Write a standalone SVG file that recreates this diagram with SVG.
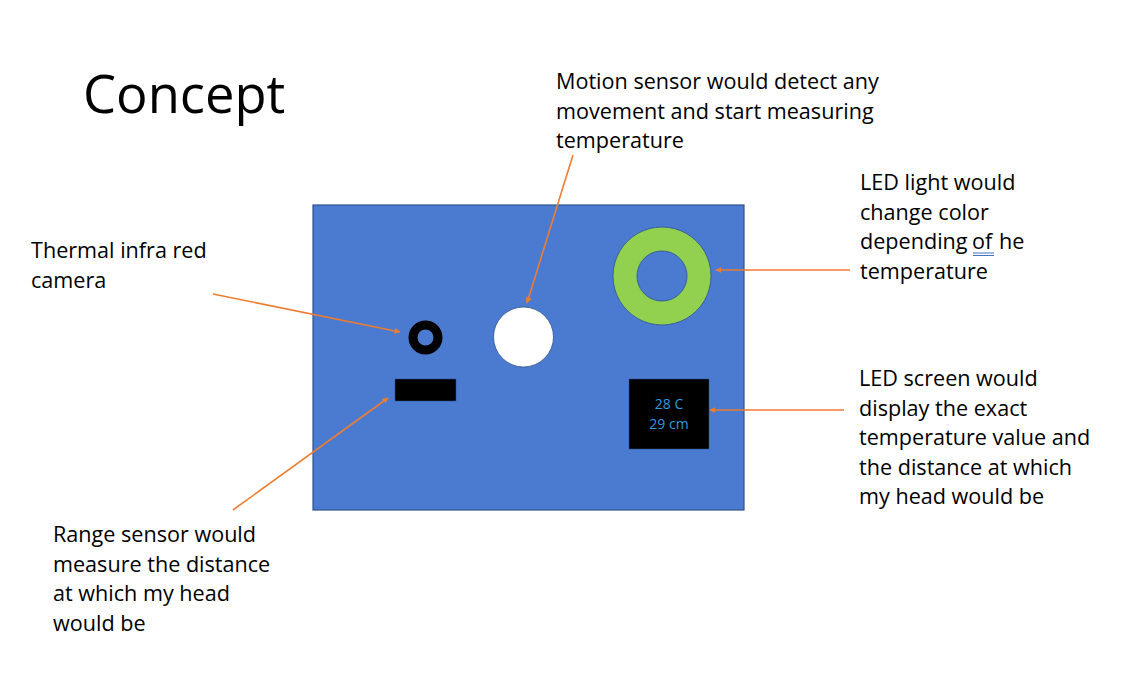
<svg xmlns="http://www.w3.org/2000/svg" width="1148" height="676" viewBox="0 0 1148 676">
<defs>
<style>
.t{font-family:"Open Sans","Noto Sans",sans-serif;font-size:21.6px;fill:#000}
.c{stroke:#ED7D31;stroke-width:1.6;fill:none;marker-end:url(#ah)}
.s{font-family:"Open Sans","Noto Sans",sans-serif;font-size:14px;fill:#2E9BDF}
</style>
<marker id="ah" viewBox="0 0 10 10" refX="9" refY="5" markerWidth="6" markerHeight="6" orient="auto" markerUnits="userSpaceOnUse">
<path d="M0,0 L10,5 L0,10 z" fill="#ED7D31"/>
</marker>
</defs>
<rect width="1148" height="676" fill="#fff"/>
<text x="83" y="113" font-family="Open Sans, Noto Sans, sans-serif" font-size="52.5" fill="#000">Concept</text>
<g id="board">
<rect x="313" y="205" width="431" height="305" fill="#4A7BD1" stroke="#2F528F" stroke-width="1.2"/>
</g>
<g id="thermal-camera">
<circle cx="425.5" cy="337.5" r="12.5" fill="none" stroke="#000" stroke-width="9"/>
</g>
<g id="range-sensor">
<rect x="395" y="379" width="61" height="22" fill="#000" stroke="#2F528F" stroke-width="0.5"/>
</g>
<g id="motion-sensor">
<circle cx="523.5" cy="337" r="30" fill="#fff" stroke="#2F528F" stroke-width="0.8"/>
</g>
<g id="led-light">
<path d="M662,227 a49,49 0 1,0 0.01,0 z M662,251 a25,25 0 1,1 -0.01,0 z" fill="#92D050" fill-rule="evenodd" stroke="#2F528F" stroke-width="0.8"/>
</g>
<g id="led-screen">
<rect x="629" y="379" width="80" height="70" fill="#000" stroke="#2F528F" stroke-width="0.5"/>
<text class="s" x="669" y="409" text-anchor="middle">28 C</text>
<text class="s" x="669" y="429" text-anchor="middle">29 cm</text>
</g>
<g id="connectors">
<line class="c" x1="213" y1="294" x2="400" y2="332"/>
<line class="c" x1="573" y1="155" x2="527" y2="303"/>
<line class="c" x1="850" y1="270" x2="716" y2="270"/>
<line class="c" x1="844" y1="410" x2="710" y2="410"/>
<line class="c" x1="233" y1="510" x2="388" y2="398"/>
</g>
<g id="label-motion">
<text class="t" x="556" y="89">Motion sensor would detect any</text>
<text class="t" x="556" y="118.5">movement and start measuring</text>
<text class="t" x="556" y="148">temperature</text>
</g>
<g id="label-led-light">
<text class="t" x="860" y="190">LED light would</text>
<text class="t" x="860" y="219.5">change color</text>
<text class="t" y="249"><tspan x="860">depending</tspan><tspan x="972">of</tspan><tspan x="999">he</tspan></text>
<text class="t" x="860" y="278.5">temperature</text>
<line x1="973" y1="253" x2="994" y2="253" stroke="#4472C4" stroke-width="1"/>
<line x1="973" y1="255.5" x2="994" y2="255.5" stroke="#4472C4" stroke-width="1"/>
</g>
<g id="label-thermal">
<text class="t" x="31" y="258">Thermal infra red</text>
<text class="t" x="31" y="287.5">camera</text>
</g>
<g id="label-screen">
<text class="t" x="859" y="386">LED screen would</text>
<text class="t" x="859" y="415.5">display the exact</text>
<text class="t" x="859" y="445">temperature value and</text>
<text class="t" x="859" y="474.5">the distance at which</text>
<text class="t" x="859" y="504">my head would be</text>
</g>
<g id="label-range">
<text class="t" x="53" y="542">Range sensor would</text>
<text class="t" x="53" y="571.5">measure the distance</text>
<text class="t" x="53" y="601">at which my head</text>
<text class="t" x="53" y="630.5">would be</text>
</g>
</svg>
